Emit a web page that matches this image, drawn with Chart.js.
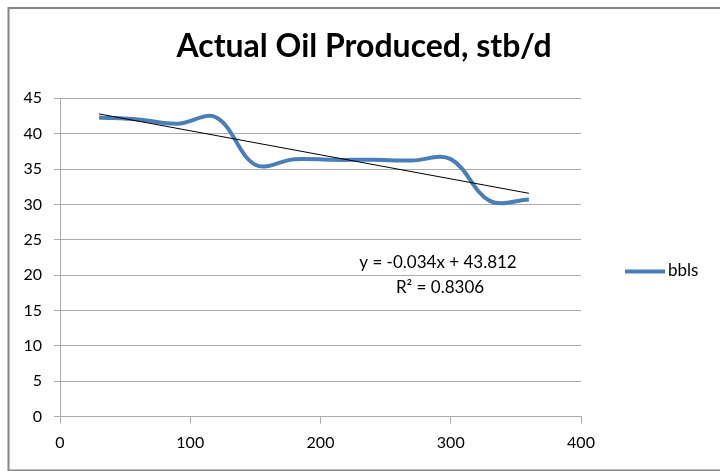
<!DOCTYPE html>
<html>
<head>
<meta charset="utf-8">
<title>Actual Oil Produced</title>
<script src="https://cdn.jsdelivr.net/npm/chart.js@4/dist/chart.umd.min.js"></script>
<style>
  html, body { margin: 0; padding: 0; background: #ffffff; }
  #wrap { width: 720px; height: 471px; }
</style>
</head>
<body>
<div id="wrap"><canvas id="chart" width="720" height="471"></canvas></div>
<script>
// Chart text
const chartTitle = 'Actual Oil Produced, stb/d';
const seriesName = 'bbls';

// Production by day
const days = [30, 60, 90, 120, 150, 180, 210, 240, 270, 300, 330, 360];
const bbls = [42.3, 42.0, 41.4, 42.3, 35.6, 36.4, 36.3, 36.3, 36.2, 36.4, 30.5, 30.7];

// Linear trendline as reported on the chart
const trendSlope = -0.034;
const trendIntercept = 43.812;
const trendR2 = 0.8306;

// Axis ticks
const xTicks = [0, 100, 200, 300, 400];
const yTicks = [0, 5, 10, 15, 20, 25, 30, 35, 40, 45];

const FONT = 'Lato, "Open Sans", "DejaVu Sans", sans-serif';
const GRID = '#ababab';
const LINE_BLUE = '#4a7ebb';

const seriesPoints = days.map((d, i) => ({ x: d, y: bbls[i] }));
const trendEnds = [days[0], days[days.length - 1]];
const trendPoints = trendEnds.map(d => ({ x: d, y: trendSlope * d + trendIntercept }));

const fmt = v => (v < 0 ? '-' : '') + Math.abs(v).toString();
const equationText = 'y = ' + fmt(trendSlope) + 'x + ' + trendIntercept.toFixed(3);
const r2Text = 'R\u00B2 = ' + trendR2.toFixed(4);

// Frame, title, legend entry and trendline equation
const decorPlugin = {
  id: 'decor',
  afterDraw(chart) {
    const ctx = chart.ctx;
    ctx.save();

    // outer frame
    ctx.strokeStyle = '#868686';
    ctx.lineWidth = 2;
    ctx.strokeRect(8.5, 8, 730, 462.5);

    // title
    ctx.fillStyle = '#000000';
    ctx.font = 'bold 32px ' + FONT;
    ctx.textAlign = 'center';
    ctx.textBaseline = 'middle';
    ctx.fillText(chartTitle, 364, 47);

    // legend entry
    const ds = chart.data.datasets[0];
    ctx.strokeStyle = ds.borderColor;
    ctx.lineWidth = ds.borderWidth;
    ctx.lineCap = 'butt';
    ctx.beginPath();
    ctx.moveTo(625, 271.5);
    ctx.lineTo(665, 271.5);
    ctx.stroke();
    ctx.font = '17px ' + FONT;
    ctx.textAlign = 'left';
    ctx.fillText(ds.label, 668, 271);

    // trendline equation
    ctx.textAlign = 'center';
    ctx.fillText(equationText, 438, 263);
    ctx.fillText(r2Text, 440, 288);
    ctx.restore();
  }
};

function build() {
  new Chart(document.getElementById('chart'), {
    type: 'scatter',
    data: {
      datasets: [
        {
          label: seriesName,
          data: seriesPoints,
          showLine: true,
          borderColor: LINE_BLUE,
          backgroundColor: LINE_BLUE,
          borderWidth: 4,
          pointRadius: 0,
          tension: 0.36,
          order: 1
        },
        {
          label: 'Linear (' + seriesName + ')',
          data: trendPoints,
          showLine: true,
          borderColor: '#000000',
          borderWidth: 1,
          pointRadius: 0,
          tension: 0,
          order: 0
        }
      ]
    },
    options: {
      responsive: false,
      animation: false,
      devicePixelRatio: 1,
      layout: { padding: { top: 98.3, right: 139, bottom: 0, left: 0 } },
      plugins: {
        legend: { display: false },
        title: { display: false },
        tooltip: { enabled: false }
      },
      scales: {
        x: {
          type: 'linear',
          min: xTicks[0],
          max: xTicks[xTicks.length - 1],
          afterBuildTicks: s => { s.ticks = xTicks.map(v => ({ value: v })); },
          afterFit: s => { s.height = 54.3; },
          ticks: { color: '#000000', font: { family: FONT, size: 16 }, padding: 10, maxRotation: 0 },
          grid: { drawOnChartArea: false, drawTicks: true, tickLength: 7, color: GRID },
          border: { display: true, color: GRID, width: 1 }
        },
        y: {
          type: 'linear',
          min: yTicks[0],
          max: yTicks[yTicks.length - 1],
          afterBuildTicks: s => { s.ticks = yTicks.map(v => ({ value: v })); },
          afterFit: s => { s.width = 60; },
          ticks: { color: '#000000', font: { family: FONT, size: 16 }, padding: 12 },
          grid: { color: GRID, lineWidth: 1, drawTicks: true, tickLength: 6 },
          border: { display: true, color: GRID, width: 1 }
        }
      }
    },
    plugins: [decorPlugin]
  });
}

Promise.all([
  document.fonts.load('bold 32px Lato'),
  document.fonts.load('17px Lato'),
  document.fonts.load('16px Lato')
]).then(build, build);
</script>
</body>
</html>
